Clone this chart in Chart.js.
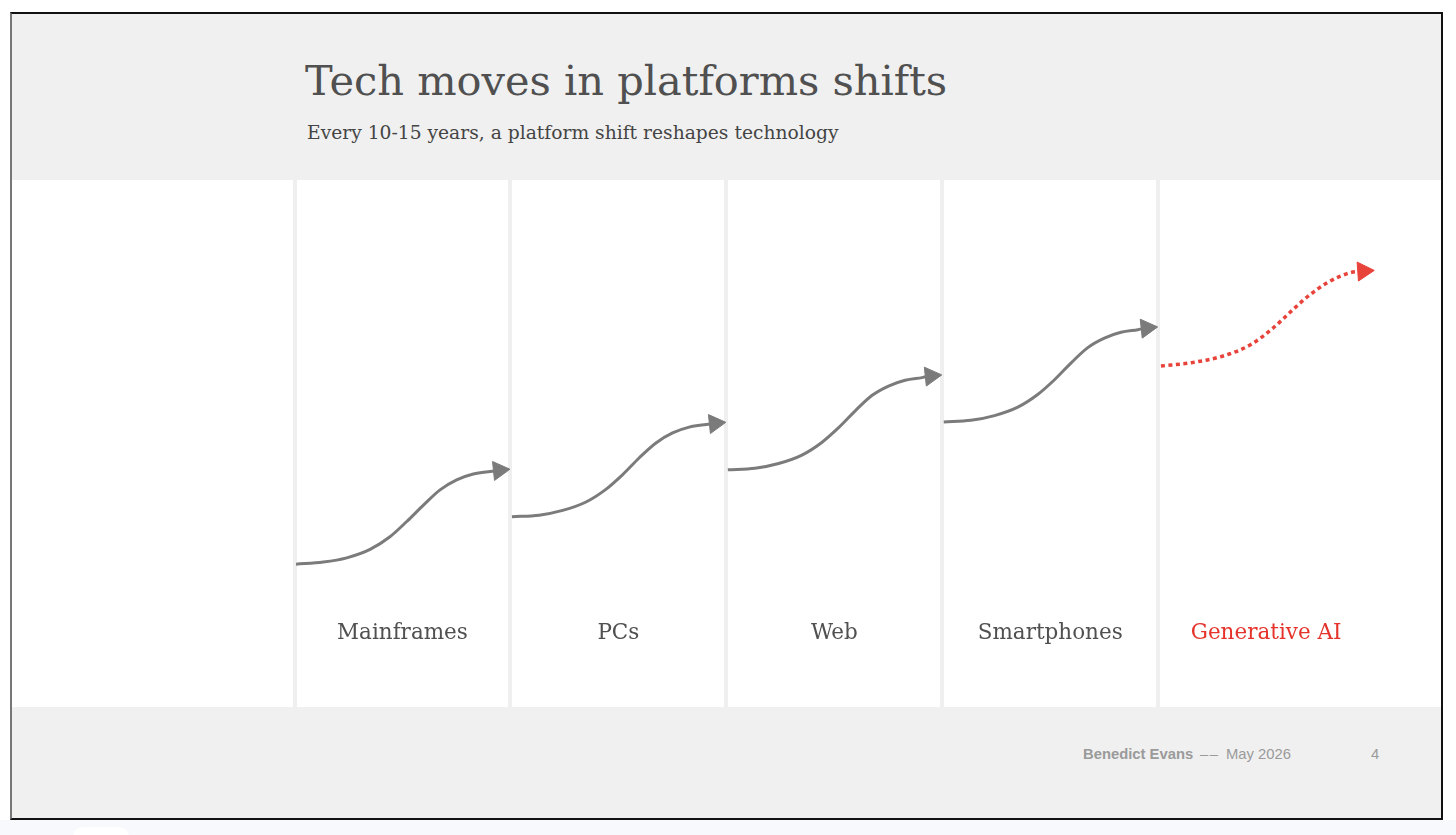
<!DOCTYPE html>
<html>
<head>
<meta charset="utf-8">
<script src="https://cdn.jsdelivr.net/npm/chart.js@4/dist/chart.umd.min.js"></script>
<style>
    body { margin: 0; background: #fff; width: 1456px; height: 835px; position: relative; overflow: hidden; }
    .frame { position: absolute; left: 10px; top: 12px; width: 1433px; height: 808px; box-sizing: border-box;
             border: 2px solid #111; border-left-color: #777; background: #f0f0f0; }
    .under { position: absolute; left: 0; top: 820px; width: 1456px; height: 15px; background: #f7f9fd; }
    .blob { position: absolute; left: 73px; top: 827px; width: 56px; height: 20px; border-radius: 14px; background: #fff; }
    .title { position: absolute; left: 305px; top: 56px; margin: 0; line-height: 1; white-space: nowrap;
             font: 41.5px "DejaVu Serif", serif; color: #505050; }
    .subtitle { position: absolute; left: 307px; top: 122px; margin: 0; line-height: 1; white-space: nowrap;
                font: 18.7px "DejaVu Serif", serif; color: #444; }
    #chart { position: absolute; left: 12px; top: 180px; background: #fff; }
    .footer { position: absolute; top: 746px; line-height: 1; font: 14.8px "Liberation Sans", Arial, sans-serif; color: #9a9a9a; white-space: nowrap; }
    .footer b { font-weight: bold; }
</style>
</head>
<body>
<div class="frame"></div>
<div class="under"></div>
<div class="blob"></div>
<h1 class="title">Tech moves in platforms shifts</h1>
<p class="subtitle">Every 10-15 years, a platform shift reshapes technology</p>
<canvas id="chart" width="1429" height="527"></canvas>
<div class="footer" style="left:1083px"><b>Benedict Evans</b></div>
<div class="footer" style="left:1200px; letter-spacing:1.5px">––</div>
<div class="footer" style="left:1226px">May 2026</div>
<div class="footer" style="left:1371px">4</div>

<script>
// platform eras, one column each
const platforms = ['Mainframes', 'PCs', 'Web', 'Smartphones', 'Generative AI'];

// [column position, level]
const mainframes = [[0.007, 27.1], [0.133, 27.5], [0.242, 28.3], [0.350, 29.9], [0.442, 32.3], [0.520, 35.2],
                    [0.597, 38.3], [0.674, 41.2], [0.751, 43.1], [0.828, 44.2], [0.906, 44.7], [0.947, 44.9]];
const pcs = [[1.007, 36.1], [1.133, 36.4], [1.242, 37.3], [1.350, 38.9], [1.442, 41.3], [1.520, 44.1],
             [1.597, 47.3], [1.674, 50.1], [1.751, 52.0], [1.828, 53.1], [1.906, 53.6], [1.947, 53.8]];
const web = [[2.007, 45.0], [2.133, 45.3], [2.242, 46.2], [2.350, 47.8], [2.442, 50.2], [2.520, 53.0],
             [2.597, 56.2], [2.674, 59.1], [2.751, 60.9], [2.828, 62.0], [2.906, 62.5], [2.947, 62.8]];
const smartphones = [[3.007, 54.1], [3.133, 54.4], [3.242, 55.3], [3.350, 56.9], [3.442, 59.3], [3.520, 62.1],
                     [3.597, 65.3], [3.674, 68.2], [3.751, 70.0], [3.828, 71.1], [3.906, 71.6], [3.947, 71.9]];
const generativeAI = [[4.013, 64.7], [4.148, 65.3], [4.301, 66.6], [4.426, 68.7], [4.532, 71.9],
                      [4.611, 74.9], [4.690, 77.8], [4.783, 80.5], [4.889, 82.4], [4.950, 82.7]];

const GREY = '#7b7b7b';
const RED = '#e8433a';

function curve(points, color, dotted) {
    return {
        data: points.map(p => ({ x: p[0], y: p[1] })),
        borderColor: color,
        borderWidth: dotted ? 3.5 : 3,
        borderDash: dotted ? [4, 3.5] : [],
        cubicInterpolationMode: 'monotone',
        // arrowhead on the last point only
        pointRadius: points.map((p, i) => i === points.length - 1 ? 11 : 0),
        pointStyle: 'triangle',
        pointRotation: dotted ? 86 : 84,
        pointBackgroundColor: color,
        pointBorderColor: color,
        pointBorderWidth: 1
    };
}

// column names under each curve
const columnLabels = {
    id: 'columnLabels',
    afterDatasetsDraw(chart, args, opts) {
        const { ctx, scales: { x, y } } = chart;
        ctx.save();
        ctx.font = opts.font;
        ctx.textAlign = 'center';
        ctx.textBaseline = 'middle';
        platforms.forEach((name, i) => {
            ctx.fillStyle = i === platforms.length - 1 ? opts.highlight : opts.color;
            ctx.fillText(name, x.getPixelForValue(i + 0.5), y.getPixelForValue(opts.level));
        });
        ctx.restore();
    }
};

new Chart(document.getElementById('chart'), {
    type: 'line',
    data: {
        datasets: [
            curve(mainframes, GREY),
            curve(pcs, GREY),
            curve(web, GREY),
            curve(smartphones, GREY),
            curve(generativeAI, RED, true)
        ]
    },
    options: {
        responsive: false,
        animation: false,
        events: [],
        layout: { padding: 0, autoPadding: false },
        plugins: {
            legend: { display: false },
            tooltip: { enabled: false },
            columnLabels: { font: '21.5px "DejaVu Serif", serif', color: '#505050', highlight: '#e5332c', level: 13.9 }
        },
        scales: {
            x: {
                type: 'linear',
                min: -1.3085,
                max: 5.31,
                afterBuildTicks: scale => { scale.ticks = platforms.map((p, i) => ({ value: i })); },
                ticks: { display: false },
                grid: { color: '#efefef', lineWidth: 4, drawTicks: false },
                border: { display: false }
            },
            y: {
                display: false,
                min: 0,
                max: 100
            }
        }
    },
    plugins: [columnLabels]
});
</script>
</body>
</html>
